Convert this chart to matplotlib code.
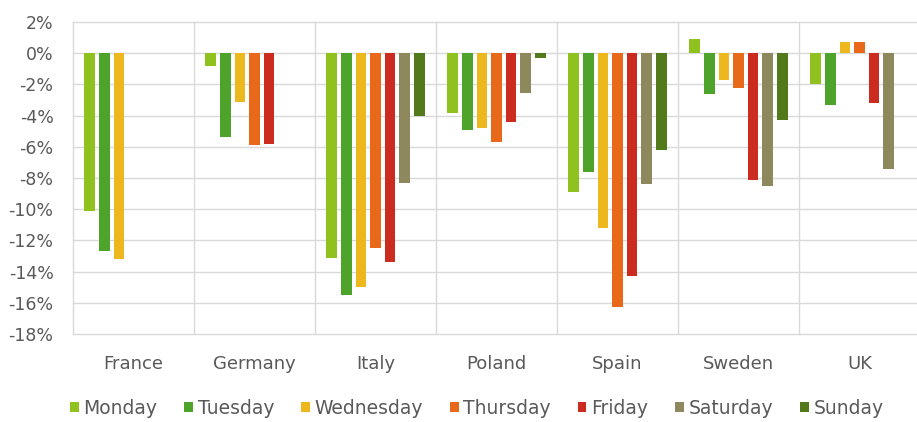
import numpy as np
from matplotlib import pyplot as plt
from matplotlib.ticker import FuncFormatter

countries = ["France", "Germany", "Italy", "Poland", "Spain", "Sweden", "UK"]
days = ["Monday", "Tuesday", "Wednesday", "Thursday", "Friday", "Saturday", "Sunday"]

# change in %, one list per weekday, in country order (None = no bar)
monday = [-10.1, -0.8, -13.1, -3.85, -8.9, 0.9, -2.0]
tuesday = [-12.65, -5.4, -15.5, -4.9, -7.6, -2.6, -3.3]
wednesday = [-13.2, -3.1, -15.0, -4.8, -11.2, -1.7, 0.7]
thursday = [None, -5.9, -12.5, -5.7, -16.3, -2.2, 0.7]
friday = [None, -5.8, -13.4, -4.4, -14.25, -8.15, -3.2]
saturday = [None, None, -8.3, -2.55, -8.4, -8.5, -7.4]
sunday = [None, None, -4.0, -0.3, -6.2, -4.3, None]

colors = ["#8fc21f", "#4ea42a", "#ecb81e", "#e9691a", "#cc2b1f", "#8e895c", "#537a1a"]

plt.rcParams["font.family"] = "DejaVu Sans"
text_color = "#595959"
grid_color = "#d9d9d9"

fig = plt.figure(figsize=(9.17, 4.22), dpi=100)
ax = fig.add_axes([73 / 917, 1 - 334 / 422, 1 - 73 / 917, (334 - 22) / 422])

x = np.arange(len(countries))
series = [monday, tuesday, wednesday, thursday, friday, saturday, sunday]
for i, (name, vals) in enumerate(zip(days, series)):
    v = np.array([np.nan if a is None else a for a in vals], dtype=float)
    ax.bar(x + (i - 3) * 0.12, v, width=0.09, color=colors[i], label=name, zorder=3)

yticks = np.arange(-18, 3, 2)
ax.set_ylim(-18, 2)
ax.set_yticks(yticks)
ax.yaxis.set_major_formatter(FuncFormatter(lambda v, p: "%d%%" % v))
ax.set_xlim(-0.5, -0.5 + 844 / 121)
ax.set_xticks(x)
ax.set_xticklabels(countries)

# gridlines drawn by hand so the edge lines are not clipped
for t in yticks:
    ax.axhline(t, color=grid_color, linewidth=1, zorder=0, clip_on=False)
for b in np.arange(-0.5, len(countries), 1):
    ax.axvline(b, color=grid_color, linewidth=1, zorder=0, clip_on=False)

for s in ax.spines.values():
    s.set_visible(False)
ax.tick_params(length=0, colors=text_color)
ax.tick_params(axis="y", pad=14, labelsize=12.5)
ax.tick_params(axis="x", pad=15, labelsize=13)

fig.legend(loc="center", bbox_to_anchor=(0.52, 1 - 408 / 422), ncol=7, frameon=False,
           fontsize=13.5, labelcolor=text_color, handlelength=0.45, handleheight=0.45,
           handletextpad=0.25, columnspacing=1.45)

fig.savefig("out.png", dpi=100)
